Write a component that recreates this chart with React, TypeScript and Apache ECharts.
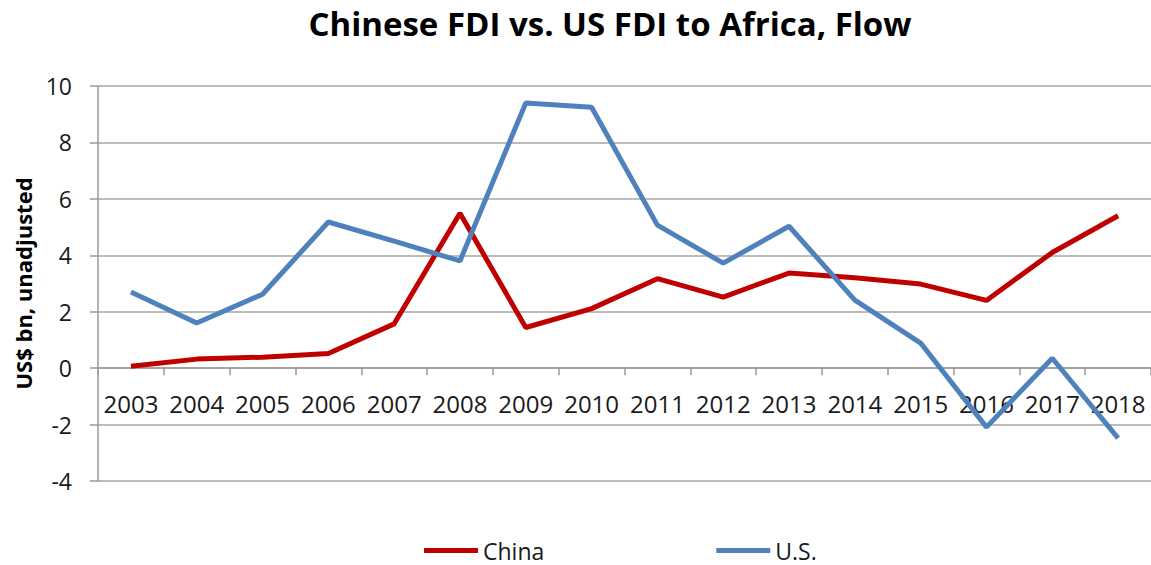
import React, { useEffect, useRef } from "react";
import * as echarts from "echarts";

const years = ["2003", "2004", "2005", "2006", "2007", "2008", "2009", "2010", "2011", "2012", "2013", "2014", "2015", "2016", "2017", "2018"];
const china = [0.07, 0.32, 0.39, 0.52, 1.57, 5.49, 1.44, 2.11, 3.17, 2.52, 3.37, 3.2, 2.98, 2.4, 4.1, 5.4];
const us = [2.7, 1.6, 2.62, 5.18, 4.5, 3.8, 9.4, 9.25, 5.07, 3.72, 5.03, 2.41, 0.89, -2.09, 0.35, -2.48];
const yMin = -4;
const yMax = 10;
const yStep = 2;

const FONT = "'Open Sans', sans-serif";

export default function App() {
  const ref = useRef<HTMLDivElement>(null);
  useEffect(() => {
    if (!ref.current) return;
    const chart = echarts.init(ref.current, undefined, { renderer: "svg" });
    chart.setOption({
      animation: false,
      backgroundColor: "#ffffff",
      title: {
        text: "Chinese FDI vs. US FDI to Africa, Flow",
        left: 605,
        top: 2,
        textAlign: "center",
        textStyle: { fontFamily: FONT, fontWeight: "bold", fontSize: 33, color: "#000000" },
      },
      legend: {
        top: 534,
        left: 419,
        icon: "rect",
        itemWidth: 54,
        itemHeight: 5,
        itemGap: 172,
        textStyle: { fontFamily: FONT, fontSize: 23, color: "#1a1a1a" },
        data: ["China", "U.S."],
      },
      grid: { left: 98, right: -6, top: 86, bottom: 84, containLabel: false },
      xAxis: {
        type: "category",
        data: years,
        boundaryGap: true,
        axisLine: { onZero: true, lineStyle: { color: "#9a9a9a", width: 1.5 } },
        axisTick: { show: true, length: 7, inside: false, lineStyle: { color: "#9a9a9a", width: 1.5 } },
        axisLabel: { fontFamily: FONT, fontSize: 24, color: "#1a1a1a", margin: -90, interval: 0 },
        splitLine: { show: false },
      },
      yAxis: {
        type: "value",
        min: yMin,
        max: yMax,
        interval: yStep,
        name: "US$ bn, unadjusted",
        nameLocation: "middle",
        nameGap: 64,
        nameRotate: 90,
        nameTextStyle: { fontFamily: FONT, fontWeight: "bold", fontSize: 22, color: "#000000" },
        axisLine: { show: true, lineStyle: { color: "#9a9a9a", width: 1.5 } },
        axisTick: { show: true, length: 8, lineStyle: { color: "#9a9a9a", width: 1.5 } },
        axisLabel: { fontFamily: FONT, fontSize: 23, color: "#1a1a1a", margin: 26 },
        splitLine: { show: true, lineStyle: { color: "#a6a6a6", width: 1.5 } },
      },
      series: [
        {
          name: "China",
          type: "line",
          data: china,
          symbol: "none",
          color: "#c00000",
          lineStyle: { width: 5, color: "#c00000" },
        },
        {
          name: "U.S.",
          type: "line",
          data: us,
          symbol: "none",
          color: "#4f81bd",
          lineStyle: { width: 5, color: "#4f81bd" },
        },
      ],
    });
    return () => chart.dispose();
  }, []);
  return (
    <div
      ref={ref}
      style={{ position: "fixed", left: 0, top: 0, width: "1151px", height: "565px", background: "#fff" }}
    />
  );
}
